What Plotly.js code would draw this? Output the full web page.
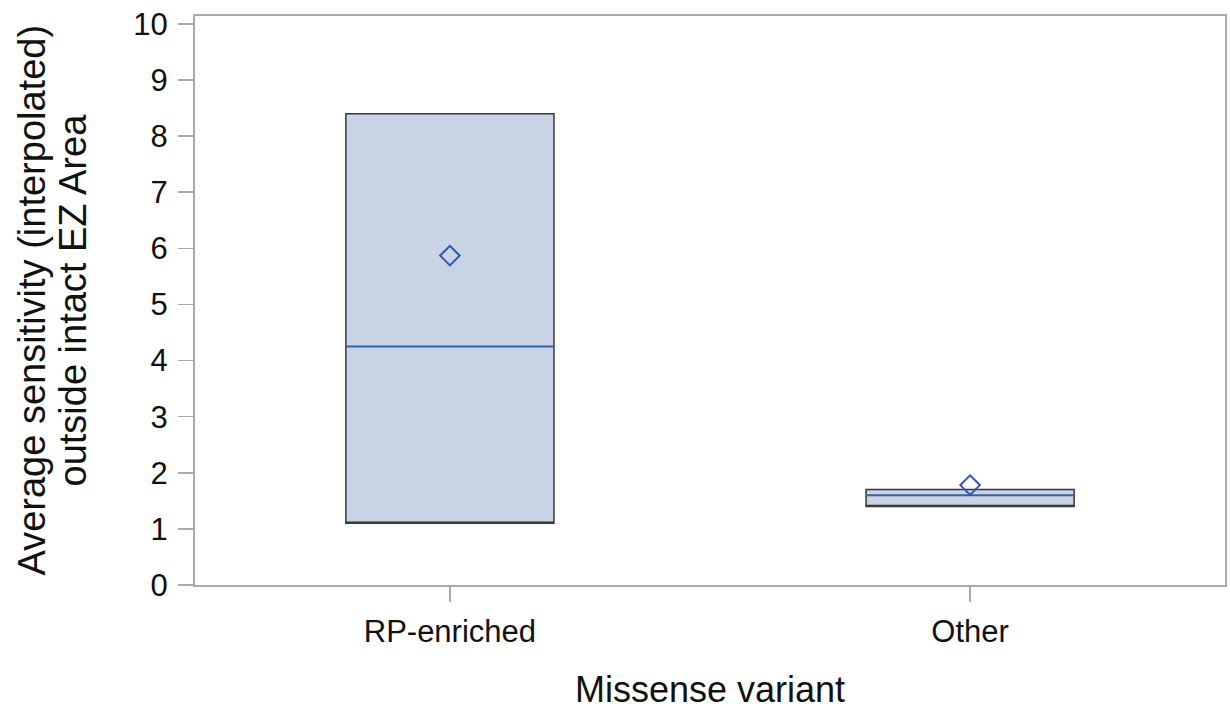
<!DOCTYPE html>
<html>
<head>
<meta charset="utf-8">
<script src="https://cdn.plot.ly/plotly-3.0.1.min.js"></script>
<style>html,body{margin:0;padding:0;background:#fff;}#chart{width:1230px;height:716px;}</style>
</head>
<body>
<div id="chart"></div>
<script>
const categories = ["RP-enriched", "Other"];
const q1Values = [1.1, 1.4];
const medianValues = [4.25, 1.6];
const q3Values = [8.4, 1.7];
const meanValues = [5.87, 1.78];
const yTickValues = [0,1,2,3,4,5,6,7,8,9,10];
const yTitleLines = ["Average sensitivity (interpolated)", "outside intact EZ Area"];

const boxTrace = {
  type: 'box',
  x: categories,
  q1: q1Values,
  median: q1Values,
  q3: q3Values,
  lowerfence: q1Values,
  upperfence: q3Values,
  width: 0.4,
  fillcolor: 'rgb(200,211,230)',
  line: {color: 'rgb(55,55,60)', width: 1.5},
  whiskerwidth: 0,
  hoverinfo: 'skip',
  showlegend: false
};
const medianTrace = {
  type: 'box',
  x: categories,
  q1: medianValues,
  median: medianValues,
  q3: medianValues,
  lowerfence: medianValues,
  upperfence: medianValues,
  width: 0.4,
  fillcolor: 'rgba(0,0,0,0)',
  line: {color: 'rgb(55,95,180)', width: 2},
  whiskerwidth: 0,
  hoverinfo: 'skip',
  showlegend: false
};
const meanTrace = {
  type: 'scatter',
  mode: 'markers',
  x: categories,
  y: meanValues,
  marker: {symbol: 'diamond-open', size: 15, color: 'rgb(50,85,170)', line: {width: 2}},
  showlegend: false
};

const layout = {
  width: 1230, height: 716,
  margin: {l: 195, r: 5, t: 16, b: 131},
  paper_bgcolor: '#fff', plot_bgcolor: '#fff',
  font: {family: 'Liberation Sans, Arial, sans-serif', color: '#111'},
  boxmode: 'overlay',
  xaxis: {
    type: 'category',
    range: [-0.49, 1.49],
    showline: true, mirror: true, linecolor: '#aaaaaa', linewidth: 2,
    ticks: 'outside', ticklen: 15, tickcolor: '#aaaaaa', tickwidth: 1.5,
    tickfont: {size: 31}, ticklabelstandoff: 3,
    showgrid: false, zeroline: false,
    title: {text: 'Missense variant', font: {size: 36}, standoff: 29}
  },
  yaxis: {
    range: [0, 10.14],
    tickvals: yTickValues,
    showline: true, mirror: true, linecolor: '#aaaaaa', linewidth: 2,
    ticks: 'outside', ticklen: 15, tickcolor: '#aaaaaa', tickwidth: 1.5,
    tickfont: {size: 31}, ticklabelstandoff: 4,
    showgrid: false, zeroline: false
  },
  annotations: yTitleLines.map((t, i) => ({
    text: t, textangle: -90, showarrow: false,
    xref: 'paper', yref: 'paper', x: 0, y: 0.5,
    xanchor: 'center', yanchor: 'middle',
    xshift: [-164, -123][i],
    font: {size: 38, color: '#111'}
  }))
};

Plotly.newPlot('chart', [boxTrace, medianTrace, meanTrace], layout, {displayModeBar: false, staticPlot: true});
</script>
</body>
</html>
